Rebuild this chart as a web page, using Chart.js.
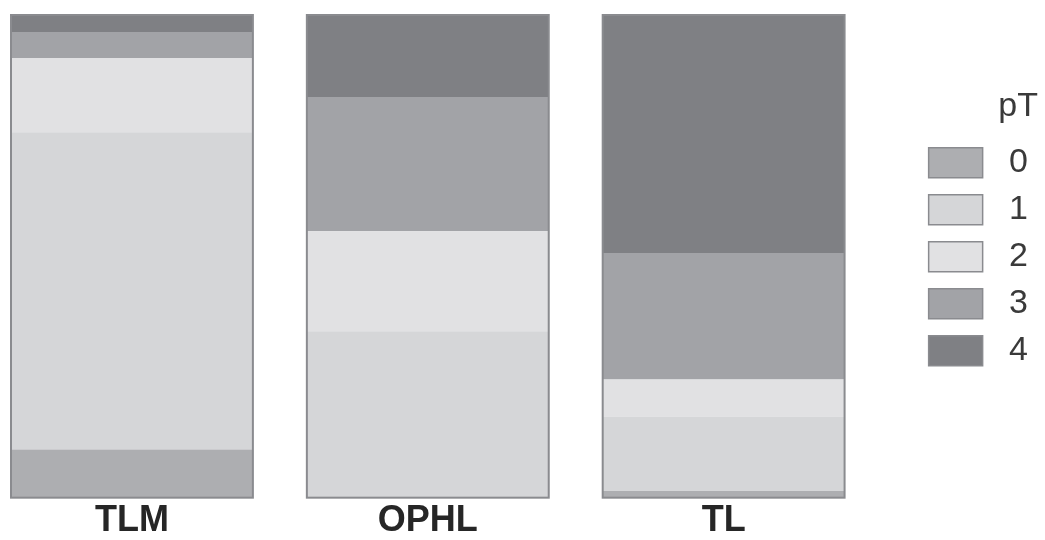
<!DOCTYPE html>
<html>
<head>
<meta charset="utf-8">
<script src="https://cdn.jsdelivr.net/npm/chart.js@4.4.1/dist/chart.umd.min.js"></script>
<style>
  html, body { margin: 0; padding: 0; background: #fff; }
  #wrap { width: 1045px; height: 540px; }
</style>
</head>
<body>
<div id="wrap"><canvas id="stageChart" width="1045" height="540"></canvas></div>
<script>
// ===== データ =====
const categories = ['TLM', 'OPHL', 'TL'];
const stageLabels = ['0', '1', '2', '3', '4'];

// 各群の pT 分布 (%)
const pT0 = [10.0, 0.0, 1.4];
const pT1 = [65.7, 34.5, 15.4];
const pT2 = [15.4, 20.7, 7.7];
const pT3 = [5.4, 27.8, 26.2];
const pT4 = [3.5, 17.0, 49.3];

const stageValues = [pT0, pT1, pT2, pT3, pT4];
const stageColors = ['#adaeb1', '#d5d6d8', '#e1e1e3', '#a2a3a7', '#7f8084'];
const EDGE = '#8a8b8f';

// ===== バー外枠 =====
const stackOutline = {
  id: 'stackOutline',
  afterDatasetsDraw(chart) {
    const { ctx } = chart;
    const yScale = chart.scales.y;
    const base = chart.getDatasetMeta(0).data;
    ctx.save();
    ctx.strokeStyle = EDGE;
    ctx.lineWidth = 2;
    base.forEach((bar, i) => {
      const total = stageValues.reduce((s, arr) => s + arr[i], 0);
      const top = yScale.getPixelForValue(total);
      const bottom = yScale.getPixelForValue(0);
      ctx.strokeRect(bar.x - bar.width / 2, top, bar.width, bottom - top);
    });
    ctx.restore();
  }
};

const datasets = stageLabels.map((label, s) => ({
  label,
  data: categories.map((c, i) => ({ x: i, y: stageValues[s][i] })),
  backgroundColor: stageColors[s],
  borderWidth: 0,
  categoryPercentage: 1,
  barPercentage: 0.8176,
}));

new Chart(document.getElementById('stageChart'), {
  type: 'bar',
  data: { datasets },
  plugins: [stackOutline],
  options: {
    responsive: false,
    animation: false,
    layout: { padding: { top: 15, right: 7, bottom: -4, left: 0 } },
    plugins: {
      tooltip: { enabled: false },
      legend: {
        position: 'right',
        align: 'start',
        title: {
          display: true,
          text: 'pT',
          position: 'end',
          color: '#3a3a3a',
          font: { family: 'Liberation Sans', size: 34 },
          padding: { top: 75, bottom: 2 },
        },
        labels: {
          boxWidth: 54,
          boxHeight: 30,
          padding: 13,
          color: '#3a3a3a',
          font: { family: 'Liberation Sans', size: 34 },
          generateLabels(chart) {
            const items = Chart.defaults.plugins.legend.labels.generateLabels(chart);
            return items.map(item => ({ ...item, text: ' ' + item.text, lineWidth: 1.5, strokeStyle: EDGE }));
          },
        },
      },
    },
    scales: {
      x: {
        type: 'linear',
        stacked: true,
        offset: false,
        min: -0.446,
        max: 2.649,
        grid: { display: false, drawTicks: false },
        border: { display: false },
        afterFit(scale) {
          scale.paddingLeft = 0;
          scale.paddingRight = 0;
        },
        ticks: {
          stepSize: 1,
          autoSkip: false,
          includeBounds: false,
          maxRotation: 0,
          padding: 3,
          color: '#262626',
          font: { family: 'Liberation Sans', size: 36, weight: 'bold', lineHeight: 1.12 },
          callback: (value) => Number.isInteger(value) ? (categories[value] || '') : '',
        },
      },
      y: {
        stacked: true,
        display: false,
        min: 0,
        max: 100,
      },
    },
  },
});
</script>
</body>
</html>
